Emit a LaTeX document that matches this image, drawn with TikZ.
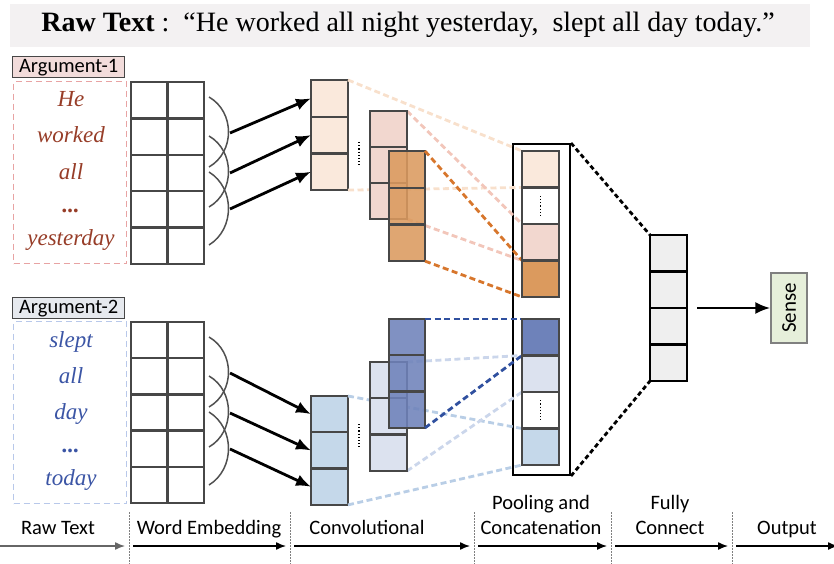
\documentclass[tikz,border=0pt]{standalone}
\usepackage{fontspec}
\setmainfont{Liberation Serif}
\newfontfamily\calfont{Carlito}
\usetikzlibrary{arrows.meta,calc}
\definecolor{titlebg}{HTML}{F3F1F2}
\definecolor{boxline}{HTML}{474747}
\definecolor{aonelab}{HTML}{F2DCDB}
\definecolor{aonedash}{HTML}{E8A3A3}
\definecolor{aoneword}{HTML}{973D28}
\definecolor{atwolab}{HTML}{E6E9EE}
\definecolor{atwodash}{HTML}{B8C8EA}
\definecolor{atwoword}{HTML}{3B55A5}
\definecolor{peach}{HTML}{FAE9DC}
\definecolor{pinkc}{HTML}{F2D7CF}
\definecolor{orangec}{HTML}{DB9A5E}
\definecolor{lblue}{HTML}{C5D8EA}
\definecolor{lav}{HTML}{DCE2EF}
\definecolor{dblue}{HTML}{6E82BA}
\definecolor{fcgray}{HTML}{EFEFEF}
\definecolor{sensebg}{HTML}{E6EFDA}
\definecolor{peachd}{HTML}{F8E0CC}
\definecolor{pinkd}{HTML}{F2C6BA}
\definecolor{oranged}{HTML}{D7762C}
\definecolor{dblued}{HTML}{30509F}
\definecolor{lavd}{HTML}{CBD6EB}
\definecolor{lblued}{HTML}{B9CEE6}
\definecolor{arcc}{HTML}{505050}
\newcommand{\colcells}[7]{%
  \foreach \i in {1,...,#6}{%
    \node[cell,#7,minimum width=#4pt,minimum height=#5pt,anchor=north west] (#1-\i) at (#2,{#3+(\i-1)*#5}) {};
  }}
\tikzset{
  cell/.style={draw=boxline,line width=2.3pt,inner sep=0pt,outer sep=0pt},
  arcline/.style={draw=arcc,line width=1.5pt},
  bigarrow/.style={line width=2.8pt,-{Latex[length=15pt,width=12pt]}},
  condash/.style={line width=2.8pt,dash pattern=on 6pt off 3.5pt},
  dotline/.style={line width=1.8pt,dash pattern=on 1.2pt off 2pt},
  word/.style={font=\fontsize{23}{23}\selectfont\itshape,anchor=base},
  lab/.style={font=\calfont\fontsize{20.5}{20}\selectfont,draw=boxline,line width=1.4pt,inner sep=0pt,anchor=north west,minimum width=112pt,minimum height=21pt},
  wbox/.style={dash pattern=on 6pt off 4pt,line width=1.3pt,anchor=north west,minimum width=113pt,minimum height=182pt,inner sep=0pt},
  axlab/.style={font=\calfont\fontsize{20.5}{24}\selectfont,align=center},
  axarrow/.style={line width=1.4pt,-{Latex[length=10pt,width=8pt]}},
  divider/.style={draw=gray,line width=1pt,dash pattern=on 1.5pt off 1.5pt},
}
\begin{document}
\begin{tikzpicture}[x=1pt,y=-1pt]
\useasboundingbox (0,0) rectangle (834,564);
% title
\node[fill=titlebg,minimum width=800pt,minimum height=43pt,anchor=north west,inner sep=0pt] (tbg) at (10,4) {};
\node[font=\fontsize{28}{28}\selectfont,anchor=base] (title) at (408,32) {\textbf{Raw Text} :~~“He worked all night yesterday,~~slept all day today.”};
% argument labels and word boxes
\node[lab,fill=aonelab] (lab1) at (12,56) {Argument-1};
\node[wbox,draw=aonedash] (wb1) at (13,81) {};
\node[lab,fill=atwolab] (lab2) at (12,297) {Argument-2};
\node[wbox,draw=atwodash] (wb2) at (13,321) {};
\node[word,text=aoneword] (wa1) at (71,107) {He};
\node[word,text=aoneword] (wa2) at (71,143) {worked};
\node[word,text=aoneword] (wa3) at (71,179) {all};
\node[word,text=aoneword] (wa4) at (71,212) {\textbf{...}};
\node[word,text=aoneword] (wa5) at (71,245) {yesterday};
\node[word,text=atwoword] (wb1w) at (71,347) {slept};
\node[word,text=atwoword] (wb2w) at (71,383) {all};
\node[word,text=atwoword] (wb3w) at (71,419) {day};
\node[word,text=atwoword] (wb4w) at (71,452) {\textbf{...}};
\node[word,text=atwoword] (wb5w) at (71,485) {today};
% embedding grids
\foreach \r in {1,...,5}{
  \foreach \c in {1,2}{
    \node[cell,minimum width=36.5pt,minimum height=36.4pt,anchor=north west] (ea-\r-\c) at ({131+(\c-1)*36.5},{82+(\r-1)*36.4}) {};
    \node[cell,minimum width=36.5pt,minimum height=36.2pt,anchor=north west] (eb-\r-\c) at ({131+(\c-1)*36.5},{322+(\r-1)*36.2}) {};
  }}
% arcs
\foreach \dy in {0,240}{
  \draw[arcline] (209,{97+\dy}) .. controls (235,{112+\dy}) and (235,{152+\dy}) .. (209,{167+\dy});
  \draw[arcline] (209,{136+\dy}) .. controls (235,{151+\dy}) and (235,{192+\dy}) .. (209,{207+\dy});
  \draw[arcline] (209,{172+\dy}) .. controls (235,{188+\dy}) and (235,{229+\dy}) .. (209,{245+\dy});
}
% pooling outer box
\node[draw=black,line width=2pt,fill=white,minimum width=57pt,minimum height=331pt,anchor=north west,inner sep=0pt] (pool) at (512,143) {};
% conv columns
\colcells{p1}{311}{80}{37}{36.7}{3}{fill=peach}
\colcells{l2}{311}{396}{37}{36.3}{3}{fill=lblue}
% pooled cells
\colcells{q}{522}{151}{37}{36.5}{4}{fill=white}
\colcells{r}{522}{319}{37}{36.5}{4}{fill=white}
% dashed connectors
\draw[condash,draw=peachd] (p1-1.north east) -- (q-1.north west);
\draw[condash,draw=peachd] (p1-3.south east) -- (q-1.south west);
\draw[condash,draw=lblued] (l2-1.north east) -- (r-4.north west);
\draw[condash,draw=lblued] (l2-3.south east) -- (r-4.south west);
\coordinate (k1ne) at (407,111);
\coordinate (k1se) at (407,219);
\coordinate (v2ne) at (407,362);
\coordinate (v2se) at (407,471);
\draw[condash,draw=pinkd] (k1ne) -- (q-3.north west);
\draw[condash,draw=pinkd] (k1se) -- (q-3.south west);
\draw[condash,draw=lavd] (v2ne) -- (r-2.north west);
\draw[condash,draw=lavd] (v2se) -- (r-2.south west);
% second and third conv columns
\colcells{k1}{370}{111}{37}{36}{3}{fill=pinkc}
\colcells{v2}{370}{362}{37}{36.3}{3}{fill=lav}
\colcells{o1}{389}{151}{36}{36.7}{3}{fill=orangec,fill opacity=0.88}
\colcells{d2}{389}{319}{36}{36.3}{3}{fill=dblue,fill opacity=0.88}
\draw[condash,draw=oranged] (o1-1.north east) -- (q-4.north west);
\draw[condash,draw=oranged] (o1-3.south east) -- (q-4.south west);
\draw[condash,draw=dblued] (d2-1.north east) -- (r-1.north west);
\draw[condash,draw=dblued] (d2-3.south east) -- (r-1.south west);
% redraw pooled cells on top
\node[cell,fill=peach,minimum width=37pt,minimum height=36.5pt] at (q-1.center) {};
\node[cell,fill=white,minimum width=37pt,minimum height=36.5pt] at (q-2.center) {};
\node[cell,fill=pinkc,minimum width=37pt,minimum height=36.5pt] at (q-3.center) {};
\node[cell,fill=orangec,minimum width=37pt,minimum height=36.5pt] at (q-4.center) {};
\node[cell,fill=dblue,minimum width=37pt,minimum height=36.5pt] at (r-1.center) {};
\node[cell,fill=lav,minimum width=37pt,minimum height=36.5pt] at (r-2.center) {};
\node[cell,fill=white,minimum width=37pt,minimum height=36.5pt] at (r-3.center) {};
\node[cell,fill=lblue,minimum width=37pt,minimum height=36.5pt] at (r-4.center) {};
\draw[dotline] ($(q-2.center)+(0,-10)$) -- ($(q-2.center)+(0,10)$);
\draw[dotline] ($(r-3.center)+(0,-10)$) -- ($(r-3.center)+(0,10)$);
% dots between conv maps
\coordinate (dta) at (359,142);
\coordinate (dtb) at (359,165);
\coordinate (dtc) at (359,424);
\coordinate (dtd) at (359,447);
\draw[dotline] (dta) -- (dtb);
\draw[dotline] (dtc) -- (dtd);
% arrows embedding -> conv
\coordinate (sa1) at (230,133);
\coordinate (sa2) at (230,173);
\coordinate (sa3) at (230,209);
\coordinate (sb1) at (230,373);
\coordinate (sb2) at (230,413);
\coordinate (sb3) at (230,449);
\draw[bigarrow] (sa1) -- (p1-1.west);
\draw[bigarrow] (sa2) -- (p1-2.west);
\draw[bigarrow] (sa3) -- (p1-3.west);
\draw[bigarrow] (sb1) -- (l2-1.west);
\draw[bigarrow] (sb2) -- (l2-2.west);
\draw[bigarrow] (sb3) -- (l2-3.west);
% fully connected
\colcells{fc}{650}{235}{37}{36.5}{4}{fill=fcgray,draw=black}
\draw[line width=2.8pt,dash pattern=on 4.5pt off 3pt] (pool.north east) -- (fc-1.north west);
\draw[line width=2.8pt,dash pattern=on 4.5pt off 3pt] (pool.south east) -- (fc-4.south west);
\node[font=\calfont\fontsize{21}{21}\selectfont,rotate=90,draw=gray,line width=1.2pt,fill=sensebg,minimum width=70pt,minimum height=36pt,inner sep=0pt] (sense) at (789,308) {Sense};
\coordinate (fco) at ($(fc-2.south east)+(10,0)$);
\draw[bigarrow] (fco) -- (sense.north);
% bottom axis
\foreach \x/\n in {129/1,290/2,474/3,611/4,732/5}{
  \coordinate (dv\n) at (\x,546);
  \draw[divider] (\x,512) -- (\x,564);
}
\coordinate (dv0) at (0,546);
\coordinate (dv6) at (838,546);
\draw[axarrow,draw=gray!80!black] (dv0) -- ($(dv1)+(-4,0)$);
\draw[axarrow] ($(dv1)+(4,0)$) -- ($(dv2)+(-4,0)$);
\draw[axarrow] ($(dv2)+(4,0)$) -- ($(dv3)+(-4,0)$);
\draw[axarrow] ($(dv3)+(4,0)$) -- ($(dv4)+(-4,0)$);
\draw[axarrow] ($(dv4)+(4,0)$) -- ($(dv5)+(-4,0)$);
\draw[axarrow] ($(dv5)+(4,0)$) -- (dv6);
\node[axlab,anchor=base] (t1) at (58,534) {Raw Text};
\node[axlab,anchor=base] (t2) at (209,534) {Word Embedding};
\node[axlab,anchor=base] (t3) at (367,534) {Convolutional};
\node[axlab,anchor=base] (t4) at (541,534) {Concatenation};
\node[axlab,anchor=base] (t4b) at (541,509) {Pooling and};
\node[axlab,anchor=base] (t5) at (670,534) {Connect};
\node[axlab,anchor=base] (t5b) at (670,509) {Fully};
\node[axlab,anchor=base] (t6) at (787,534) {Output};
\end{tikzpicture}
\end{document}
